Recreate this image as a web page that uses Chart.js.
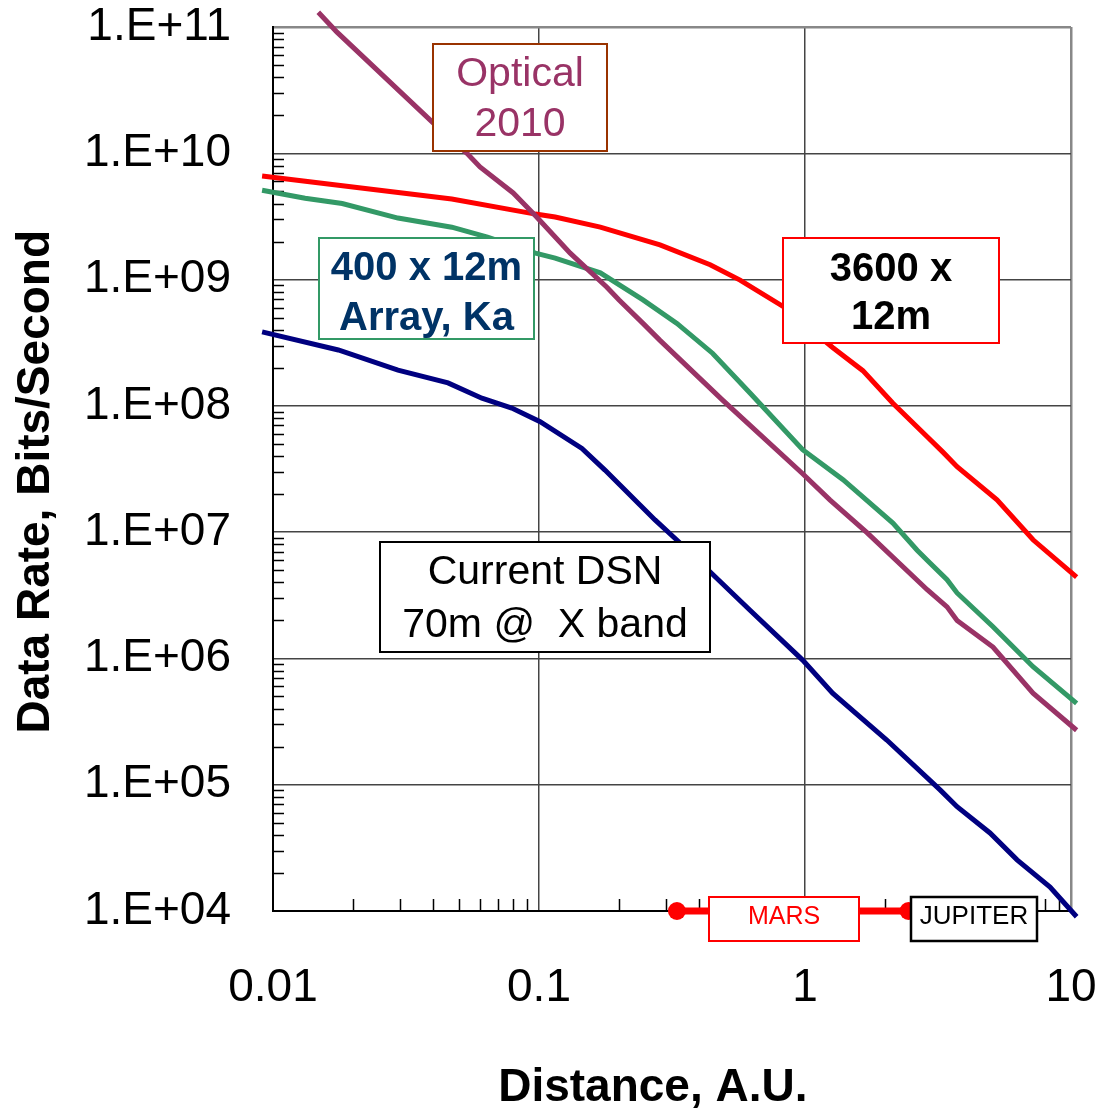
<!DOCTYPE html>
<html>
<head>
<meta charset="utf-8">
<title>Data Rate vs Distance</title>
<script src="https://cdn.jsdelivr.net/npm/chart.js@4.4.1/dist/chart.umd.min.js"></script>
<style>
  html, body { margin: 0; padding: 0; background: #fff; }
  #chart { display: block; }
</style>
</head>
<body>
<canvas id="chart" width="1099" height="1112"></canvas>
<script>
// Distance (A.U.) and data rate (bits/second)
const array3600Dist = [0.0091, 0.047, 0.097, 0.115, 0.17, 0.285, 0.44, 0.57, 0.83, 1.27, 1.65, 2.14, 2.88, 3.3, 3.73, 5.27, 7.2, 10.5];
const array3600Rate = [6.6e9, 4.35e9, 3.3e9, 3.13e9, 2.6e9, 1.88e9, 1.31e9, 9.9e8, 6.1e8, 2.9e8, 1.9e8, 1.05e8, 5.7e7, 4.3e7, 3.3e7, 1.8e7, 8.7e6, 4.4e6];

const array400Dist = [0.0091, 0.0132, 0.0182, 0.0295, 0.047, 0.064, 0.097, 0.115, 0.17, 0.246, 0.33, 0.45, 0.62, 0.98, 1.39, 2.14, 2.64, 2.95, 3.42, 3.73, 5.09, 7.2, 10.5];
const array400Rate = [5.1e9, 4.4e9, 4.0e9, 3.07e9, 2.6e9, 2.17e9, 1.62e9, 1.48e9, 1.13e9, 6.9e8, 4.5e8, 2.6e8, 1.27e8, 4.5e7, 2.6e7, 1.18e7, 7.2e6, 5.7e6, 4.2e6, 3.3e6, 1.78e6, 8.6e5, 4.4e5];

const opticalDist = [0.0148, 0.0174, 0.04, 0.0536, 0.06, 0.08, 0.098, 0.131, 0.18, 0.2, 0.246, 0.285, 0.49, 0.98, 1.24, 1.71, 2.88, 3.42, 3.73, 5.09, 7.2, 10.5];
const opticalRate = [1.31e11, 9.1e10, 1.74e10, 1.0e10, 7.8e9, 4.85e9, 3.13e9, 1.62e9, 8.7e8, 6.9e8, 4.5e8, 3.3e8, 1.11e8, 2.9e7, 1.8e7, 9.9e6, 3.5e6, 2.56e6, 2.0e6, 1.23e6, 5.3e5, 2.7e5];

const dsnDist = [0.0091, 0.0176, 0.0295, 0.0455, 0.061, 0.079, 0.101, 0.145, 0.177, 0.273, 0.339, 0.62, 0.98, 1.27, 2.03, 3.22, 3.73, 4.96, 6.27, 8.34, 10.5];
const dsnRate = [3.85e8, 2.77e8, 1.92e8, 1.52e8, 1.15e8, 9.6e7, 7.5e7, 4.6e7, 3.1e7, 1.25e7, 8.2e6, 2.42e6, 9.7e5, 5.3e5, 2.26e5, 9.1e4, 6.7e4, 4.15e4, 2.54e4, 1.55e4, 9.0e3];

// Axis ticks
const xMajorTicks = [0.01, 0.1, 1, 10];
const xTickLabels = ['0.01', '0.1', '1', '10'];
const yMajorTicks = [1e4, 1e5, 1e6, 1e7, 1e8, 1e9, 1e10, 1e11];
const yTickLabels = ['1.E+04', '1.E+05', '1.E+06', '1.E+07', '1.E+08', '1.E+09', '1.E+10', '1.E+11'];

// Mars distance span marked along the bottom axis (A.U.)
const marsRange = [0.33, 2.45];

const FONT = '"Liberation Sans", Arial, sans-serif';
Chart.defaults.font.family = FONT;
Chart.defaults.color = '#000';

function toPoints(xs, ys) {
    return xs.map((x, i) => ({ x: x, y: ys[i] }));
}

// major decade ticks plus 2..9 minor ticks in between
function withMinor(majors) {
    const all = [];
    majors.forEach((d, i) => {
        all.push(d);
        if (i < majors.length - 1) {
            for (let k = 2; k <= 9; k++) all.push(d * k);
        }
    });
    return all.map(v => ({ value: v }));
}

// Text boxes: anchored at their top-left corner in data units
const notes = [
    { lines: ['Optical', '2010'], x: 0.04, y: 7.33e10, w: 174, h: 107, first: 31, gap: 50,
      border: '#993300', color: '#993366', font: '41px ' + FONT },
    { lines: ['400 x 12m', 'Array, Ka'], x: 0.0149, y: 2.13e9, w: 215, h: 101, first: 31, gap: 50,
      border: '#339966', color: '#003366', font: 'bold 40px ' + FONT },
    { lines: ['3600 x', '12m'], x: 0.827, y: 2.13e9, w: 216, h: 105, first: 32, gap: 48,
      border: '#ff0000', color: '#000000', font: 'bold 40px ' + FONT },
    { lines: ['Current DSN', '70m @  X band'], x: 0.02525, y: 8.36e6, w: 330, h: 110, first: 31, gap: 53,
      border: '#000000', color: '#000000', font: '41px ' + FONT },
    { lines: ['MARS'], x: 0.4355, y: null, w: 150, h: 44, first: 20, gap: 0,
      border: '#ff0000', color: '#ff0000', font: '25px ' + FONT },
    { lines: ['JUPITER'], x: 2.503, y: null, w: 126, h: 44, first: 20, gap: 0,
      border: '#000000', color: '#000000', font: '26px ' + FONT, lw: 2.5 }
];

const isMajor = (list, v) => list.indexOf(v) !== -1;

// short inside tick marks for the minor values
const minorTicksPlugin = {
    id: 'minorTicks',
    beforeDatasetsDraw(chart) {
        const { ctx, chartArea, scales } = chart;
        ctx.save();
        ctx.strokeStyle = '#000';
        ctx.lineWidth = 1.5;
        ctx.beginPath();
        scales.y.ticks.forEach(t => {
            if (isMajor(yMajorTicks, t.value)) return;
            const py = Math.round(scales.y.getPixelForValue(t.value)) + 0.5;
            ctx.moveTo(chartArea.left, py);
            ctx.lineTo(chartArea.left + 11, py);
        });
        scales.x.ticks.forEach(t => {
            if (isMajor(xMajorTicks, t.value)) return;
            const px = Math.round(scales.x.getPixelForValue(t.value)) + 0.5;
            ctx.moveTo(px, chartArea.bottom);
            ctx.lineTo(px, chartArea.bottom - 12);
        });
        ctx.stroke();
        ctx.restore();
    }
};

const notesPlugin = {
    id: 'notes',
    afterDatasetsDraw(chart) {
        const { ctx, chartArea, scales } = chart;
        const bottom = chartArea.bottom;
        ctx.save();

        // Mars span with round ends
        const m0 = scales.x.getPixelForValue(marsRange[0]);
        const m1 = scales.x.getPixelForValue(marsRange[1]);
        ctx.strokeStyle = '#ff0000';
        ctx.fillStyle = '#ff0000';
        ctx.lineWidth = 7;
        ctx.beginPath();
        ctx.moveTo(m0, bottom);
        ctx.lineTo(m1, bottom);
        ctx.stroke();
        [m0, m1].forEach(px => {
            ctx.beginPath();
            ctx.arc(px, bottom, 9, 0, Math.PI * 2);
            ctx.fill();
        });

        notes.forEach(n => {
            const left = Math.round(scales.x.getPixelForValue(n.x));
            const top = n.y === null ? bottom - 14 : Math.round(scales.y.getPixelForValue(n.y));
            ctx.fillStyle = '#fff';
            ctx.fillRect(left, top, n.w, n.h);
            ctx.strokeStyle = n.border;
            ctx.lineWidth = n.lw || 2;
            ctx.strokeRect(left, top, n.w, n.h);
            ctx.fillStyle = n.color;
            ctx.font = n.font;
            ctx.textAlign = 'center';
            ctx.textBaseline = 'middle';
            n.lines.forEach((line, i) => {
                ctx.fillText(line, left + n.w / 2, top + n.first + i * n.gap);
            });
        });
        ctx.restore();
    }
};

function lineSet(label, xs, ys, color) {
    return {
        label: label,
        data: toPoints(xs, ys),
        borderColor: color,
        borderWidth: 5,
        pointRadius: 0,
        tension: 0,
        clip: false
    };
}

const gridColor = (edgeValue, majors) => ctx => {
    const v = ctx.tick.value;
    if (v === edgeValue) return '#888888';
    return isMajor(majors, v) ? '#444444' : 'rgba(0,0,0,0)';
};

// keep the plot box fixed: no extra room for overhanging end labels
function noOverhang(axis) {
    axis.paddingLeft = 0;
    axis.paddingRight = 0;
    axis.paddingTop = 0;
    axis.paddingBottom = 0;
}

new Chart(document.getElementById('chart'), {
    type: 'line',
    data: {
        datasets: [
            lineSet('Current DSN 70m @ X band', dsnDist, dsnRate, '#000080'),
            lineSet('Optical 2010', opticalDist, opticalRate, '#993366'),
            lineSet('400 x 12m Array, Ka', array400Dist, array400Rate, '#339966'),
            lineSet('3600 x 12m', array3600Dist, array3600Rate, '#ff0000')
        ]
    },
    options: {
        responsive: false,
        animation: false,
        layout: { padding: { left: 0, right: 28, top: 27, bottom: 0 } },
        plugins: { legend: { display: false }, tooltip: { enabled: false } },
        scales: {
            x: {
                type: 'logarithmic',
                min: 0.01,
                max: 10,
                afterBuildTicks: axis => { axis.ticks = withMinor(xMajorTicks); },
                afterFit: axis => { axis.height = 201; noOverhang(axis); },
                grid: {
                    color: gridColor(10, xMajorTicks),
                    lineWidth: ctx => ctx.tick.value === 10 ? 2.5 : 1.5,
                    drawTicks: false
                },
                border: { color: '#000', width: 2 },
                ticks: {
                    autoSkip: false,
                    maxRotation: 0,
                    padding: 50,
                    font: { size: 46 },
                    callback: value => {
                        const i = xMajorTicks.indexOf(value);
                        return i === -1 ? '' : xTickLabels[i];
                    }
                },
                title: {
                    display: true,
                    text: 'Distance, A.U.   ',
                    font: { size: 46, weight: 'bold', lineHeight: 1 },
                    padding: { top: 0, bottom: 1 }
                }
            },
            y: {
                type: 'logarithmic',
                min: 1e4,
                max: 1e11,
                afterBuildTicks: axis => { axis.ticks = withMinor(yMajorTicks); },
                afterFit: axis => { axis.width = 273; noOverhang(axis); },
                grid: {
                    color: gridColor(1e11, yMajorTicks),
                    lineWidth: ctx => ctx.tick.value === 1e11 ? 2.5 : 1.5,
                    drawTicks: false
                },
                border: { color: '#000', width: 2 },
                ticks: {
                    autoSkip: false,
                    padding: 42,
                    font: { size: 46 },
                    callback: value => {
                        const i = yMajorTicks.indexOf(value);
                        return i === -1 ? '' : yTickLabels[i];
                    }
                },
                title: {
                    display: true,
                    text: 'Data Rate, Bits/Second  ',
                    font: { size: 46, weight: 'bold', lineHeight: 1 },
                    padding: { top: 13, bottom: 0 }
                }
            }
        }
    },
    plugins: [minorTicksPlugin, notesPlugin]
});
</script>
</body>
</html>
